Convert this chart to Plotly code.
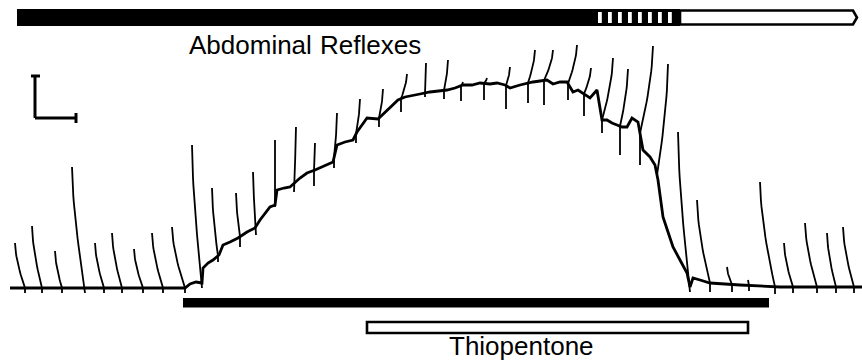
import numpy as np
import plotly.graph_objects as go

# ---- slow (tonic) trace: time (px-scaled units) and amplitude ----
trace_t = [10, 60, 120, 185, 190, 196, 202, 203, 208, 213, 219, 223, 230, 238, 247,
           255, 260, 265, 270, 275, 277, 284, 290, 300, 307, 315, 325, 333, 337, 345,
           353, 357, 362, 367, 378, 383, 388, 398, 405, 413, 420, 430, 440, 447, 455,
           463, 472, 480, 490, 497, 505, 510, 520, 527, 533, 540, 547, 553, 560, 567,
           573, 578, 583, 590, 597, 602, 607, 612, 617, 622, 627, 632, 638, 643, 650,
           655, 658, 663, 668, 673, 680, 687, 690, 693, 700, 710, 740, 780, 820, 862]
trace_a = [2, 2, 2, 2, 6, 8, 7, 22, 27, 30, 35, 45, 48, 52, 58,
           62, 70, 76, 83, 85, 100, 102, 103, 112, 117, 120, 124, 128, 145, 148,
           150, 158, 165, 172, 171, 176, 180, 190, 193, 195, 196, 198, 199, 200, 202,
           205, 205, 207, 206, 207, 205, 202, 205, 207, 208, 209, 210, 206, 208, 208,
           198, 200, 197, 192, 200, 170, 170, 167, 165, 163, 163, 172, 168, 140, 133,
           125, 110, 73, 58, 43, 30, 17, 3, 12, 10, 7, 5, 3, 3, 3]

# ---- reflex responses: base time, time & amplitude of the peak, lowest point ----
reflex_t = [25, 42, 62, 85, 104, 122, 143, 163, 185, 202, 218, 240, 256, 275, 294,
            314, 334, 356, 379, 401, 425, 444, 461, 484, 506, 528, 544, 568, 584, 602,
            620, 640, 657, 690, 710, 732, 749, 775, 793, 817, 836, 854]
reflex_top_t = [15, 32, 55, 72, 95, 112, 134, 152, 172, 192, 212, 236, 253, 275, 296,
                315, 337, 360, 383, 407, 426, 448, 463, 487, 510, 535, 553, 577, 591, 613,
                628, 653, 668, 678, 697, 727, 748, 760, 784, 805, 827, 843]
reflex_top_a = [47, 64, 39, 123, 47, 57, 41, 57, 63, 145, 102, 97, 118, 150, 163,
                147, 177, 191, 201, 216, 227, 230, 208, 212, 223, 240, 240, 245, 222, 232,
                221, 244, 226, 158, 90, 23, 10, 108, 47, 67, 57, 63]
reflex_low_a = [-3, -3, -3, -3, -3, -3, -3, -3, -3, 2, 28, 43, 55, 83, 98,
                104, 122, 147, 163, 178, 193, 191, 189, 190, 181, 187, 185, 190, 174, 157,
                135, 125, 115, -2, -2, -2, -1, -4, -3, -3, -3, -3]

# ---- event bars (time spans) ----
reflex_present = (17, 598)     # abdominal reflexes present
reflex_fading = (598, 680)     # reflexes intermittent
reflex_absent = (680, 853)     # reflexes abolished
stimulus_bar = (183, 769)
thiopentone_bar = (367, 748)

# amplitude (y) positions of the bars / labels (y = 290 - screen px)
def Y(px):
    return 290 - px

# build reflex deflection paths (arc from peak to base, then to trough)
sx, sy = [], []
s = np.linspace(0, 1, 18)
for tb, tt, at, al in zip(reflex_t, reflex_top_t, reflex_top_a, reflex_low_a):
    ab = float(np.interp(tb, trace_t, trace_a))
    xs = tt + (tb - tt) * s ** 1.6
    ys = at + (ab - at) * s
    sx += list(xs) + [tb, None]
    sy += list(ys) + [al, None]

fig = go.Figure()
fig.add_trace(go.Scatter(x=trace_t, y=trace_a, mode="lines",
                         line=dict(color="black", width=2.8), hoverinfo="skip"))
fig.add_trace(go.Scatter(x=sx, y=sy, mode="lines",
                         line=dict(color="black", width=1.8), hoverinfo="skip"))

shapes = []
# top bar: solid part
shapes.append(dict(type="rect", xref="x", yref="y", x0=reflex_present[0], x1=reflex_present[1],
                   y0=Y(26), y1=Y(9), fillcolor="black", line=dict(width=0)))
# dashed part: frame + alternating blocks
shapes.append(dict(type="rect", xref="x", yref="y", x0=reflex_fading[0], x1=reflex_fading[1],
                   y0=Y(26), y1=Y(9), fillcolor="black", line=dict(width=0)))
n_blocks = 8
period = (reflex_fading[1] - reflex_fading[0] - 2) / n_blocks
for i in range(n_blocks):
    g0 = reflex_fading[0] + i * period
    shapes.append(dict(type="rect", xref="x", yref="y", x0=g0, x1=g0 + period * 0.38,
                       y0=Y(23), y1=Y(12), fillcolor="white", line=dict(width=0)))
# white (absent) part with pointed end
xa0, xa1 = reflex_absent
shapes.append(dict(type="path", xref="x", yref="y",
                   path=f"M {xa0},{Y(10.5)} L {xa1},{Y(10.5)} L {xa1+4},{Y(17.5)} L {xa1},{Y(24.5)} L {xa0},{Y(24.5)} Z",
                   fillcolor="white", line=dict(color="black", width=2.6)))
# bottom bars
shapes.append(dict(type="rect", xref="x", yref="y", x0=stimulus_bar[0], x1=stimulus_bar[1],
                   y0=Y(307.5), y1=Y(298), fillcolor="black", line=dict(width=0)))
shapes.append(dict(type="rect", xref="x", yref="y", x0=thiopentone_bar[0], x1=thiopentone_bar[1],
                   y0=Y(333), y1=Y(322), fillcolor="white", line=dict(color="black", width=2.6)))
# calibration bars
cal = dict(color="black", width=3)
shapes.append(dict(type="line", xref="x", yref="y", x0=35, x1=35, y0=Y(76), y1=Y(118), line=cal))
shapes.append(dict(type="line", xref="x", yref="y", x0=35, x1=76, y0=Y(118), y1=Y(118), line=cal))
shapes.append(dict(type="line", xref="x", yref="y", x0=31, x1=40, y0=Y(76), y1=Y(76), line=cal))
shapes.append(dict(type="line", xref="x", yref="y", x0=76, x1=76, y0=Y(113), y1=Y(123), line=cal))

font = dict(family="Liberation Sans, Arial, sans-serif", size=26, color="black")
annotations = [
    dict(text="Abdominal", x=187, y=Y(45), xref="x", yref="y", xanchor="left",
         yanchor="middle", showarrow=False, font=font),
    dict(text="Reflexes", x=318, y=Y(45), xref="x", yref="y", xanchor="left",
         yanchor="middle", showarrow=False, font=font),
    dict(text="Thiopentone", x=521, y=Y(362), xref="x", yref="y", xanchor="center",
         yanchor="bottom", showarrow=False, font=font, borderpad=0),
]

fig.update_layout(
    width=862, height=362,
    margin=dict(l=0, r=0, t=0, b=0),
    paper_bgcolor="white", plot_bgcolor="white",
    showlegend=False,
    xaxis=dict(range=[0, 862], visible=False, fixedrange=True),
    yaxis=dict(range=[Y(362), Y(0)], visible=False, fixedrange=True),
    shapes=shapes,
    annotations=annotations,
)

fig.write_html("out.html")
